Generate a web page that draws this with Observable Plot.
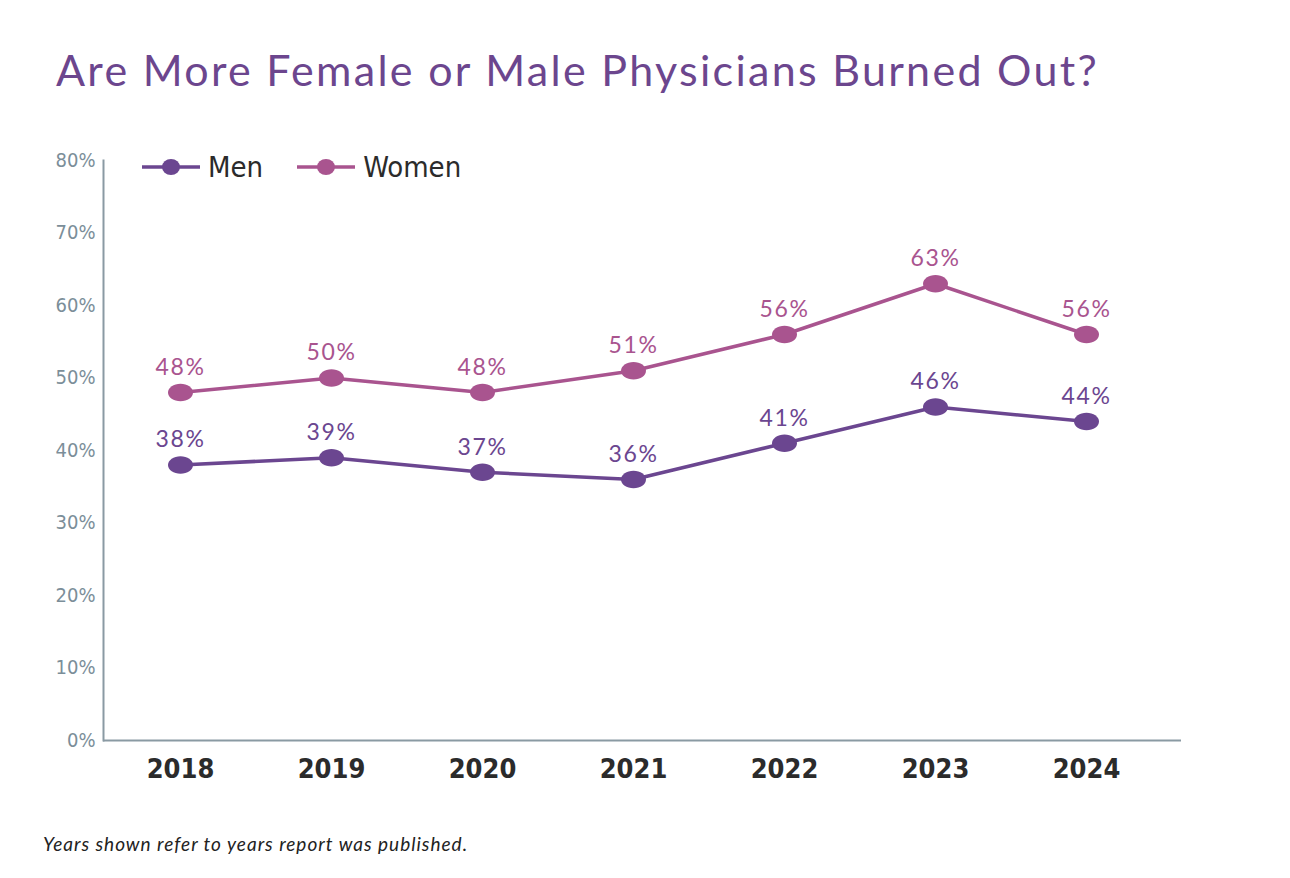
<!DOCTYPE html>
<html>
<head>
<meta charset="utf-8">
<script src="https://cdn.jsdelivr.net/npm/d3@7"></script>
<script src="https://cdn.jsdelivr.net/npm/@observablehq/plot@0.6"></script>
<style>
  html, body { margin: 0; padding: 0; background: #fff; }
  #wrap { position: relative; width: 1290px; height: 878px; overflow: hidden; }
  #title { position: absolute; left: 56px; top: 44px; font-family: Lato, "Open Sans", sans-serif; font-size: 43px; letter-spacing: 2.3px; color: #6c468e; white-space: nowrap; }
  #caption { position: absolute; left: 43px; top: 832px; font-family: Lato, "Open Sans", sans-serif; font-style: italic; font-size: 19px; letter-spacing: 1px; color: #222; }
  #legend { position: absolute; left: 140px; top: 150px; display: flex; align-items: center; font-family: "Liberation Sans Narrow", "DejaVu Sans Condensed", Roboto, sans-serif; font-stretch: condensed; font-size: 29px; color: #2b2b2b; }
  .item { display: flex; align-items: center; margin-right: 32px; }
  .item svg { margin-right: 6px; }
  #chart { position: absolute; left: 0; top: 0; }
</style>
</head>
<body>
<div id="wrap">
  <div id="chart"></div>
  <div id="title"></div>
  <div id="legend"></div>
  <div id="caption"></div>
</div>
<script>
const titleText = "Are More Female or Male Physicians Burned Out?";
const captionText = "Years shown refer to years report was published.";
const years = ["2018", "2019", "2020", "2021", "2022", "2023", "2024"];
const series = ["Men", "Women"];
const menValues = [38, 39, 37, 36, 41, 46, 44];
const womenValues = [48, 50, 48, 51, 56, 63, 56];
const yTicks = [0, 10, 20, 30, 40, 50, 60, 70, 80];
const colors = ["#6b4690", "#a9548f"];

document.getElementById("title").textContent = titleText;
document.getElementById("caption").textContent = captionText;

const data = [];
years.forEach((y, i) => {
  data.push({year: y, series: "Men", value: menValues[i]});
  data.push({year: y, series: "Women", value: womenValues[i]});
});

// ellipse symbol (wider than tall)
const ellipse = {
  draw(context, size) {
    const r = Math.sqrt(size / Math.PI);
    const rx = r * 1.25, ry = r * 0.88, k = 0.5523;
    context.moveTo(rx, 0);
    context.bezierCurveTo(rx, ry * k, rx * k, ry, 0, ry);
    context.bezierCurveTo(-rx * k, ry, -rx, ry * k, -rx, 0);
    context.bezierCurveTo(-rx, -ry * k, -rx * k, -ry, 0, -ry);
    context.bezierCurveTo(rx * k, -ry, rx, -ry * k, rx, 0);
    context.closePath();
  }
};

const condensed = `"Liberation Sans Narrow", "DejaVu Sans Condensed", Roboto, sans-serif`;

const chart = Plot.plot({
  width: 1290,
  height: 878,
  marginTop: 160,
  marginBottom: 138,
  marginLeft: 103,
  marginRight: 109,
  style: {background: "transparent", overflow: "visible"},
  x: {type: "point", domain: years, padding: 0, insetLeft: 75, insetRight: 94},
  y: {domain: [0, 80]},
  color: {domain: series, range: colors},
  marks: [
    Plot.axisY({ticks: yTicks, tickFormat: d => d + "%", tickSize: 0, tickPadding: 8, fontSize: 20, fill: "#7b8e99", fontFamily: condensed, label: null}),
    Plot.axisX({tickSize: 0, tickPadding: 18, fontSize: 27, fontWeight: "bold", fill: "#2b2b2b", fontFamily: condensed, label: null}),
    Plot.ruleY([0], {stroke: "#8a9aa3", strokeWidth: 2}),
    Plot.frame({anchor: "left", stroke: "#8a9aa3", strokeWidth: 2}),
    Plot.line(data, {x: "year", y: "value", stroke: "series", z: "series", strokeWidth: 3.5}),
    Plot.dot(data, {x: "year", y: "value", fill: "series", r: 10, symbol: ellipse, stroke: "none"}),
    Plot.text(data, {x: "year", y: "value", text: d => d.value + "%", fill: "series", dy: -25, fontSize: 23, fontFamily: "Lato, 'Open Sans', sans-serif"})
  ]
});
chart.querySelectorAll('g[aria-label="text"] text').forEach(t => { t.style.letterSpacing = "1.6px"; });
document.getElementById("chart").appendChild(chart);

// legend
const legend = document.getElementById("legend");
series.forEach((s, i) => {
  const item = document.createElement("div");
  item.className = "item";
  item.innerHTML = `<svg width="62" height="20"><line x1="2" x2="60" y1="10" y2="10" stroke="${colors[i]}" stroke-width="3.5"/><ellipse cx="31" cy="10" rx="9" ry="8" fill="${colors[i]}"/></svg><span>${s}</span>`;
  legend.appendChild(item);
});
</script>
</body>
</html>
